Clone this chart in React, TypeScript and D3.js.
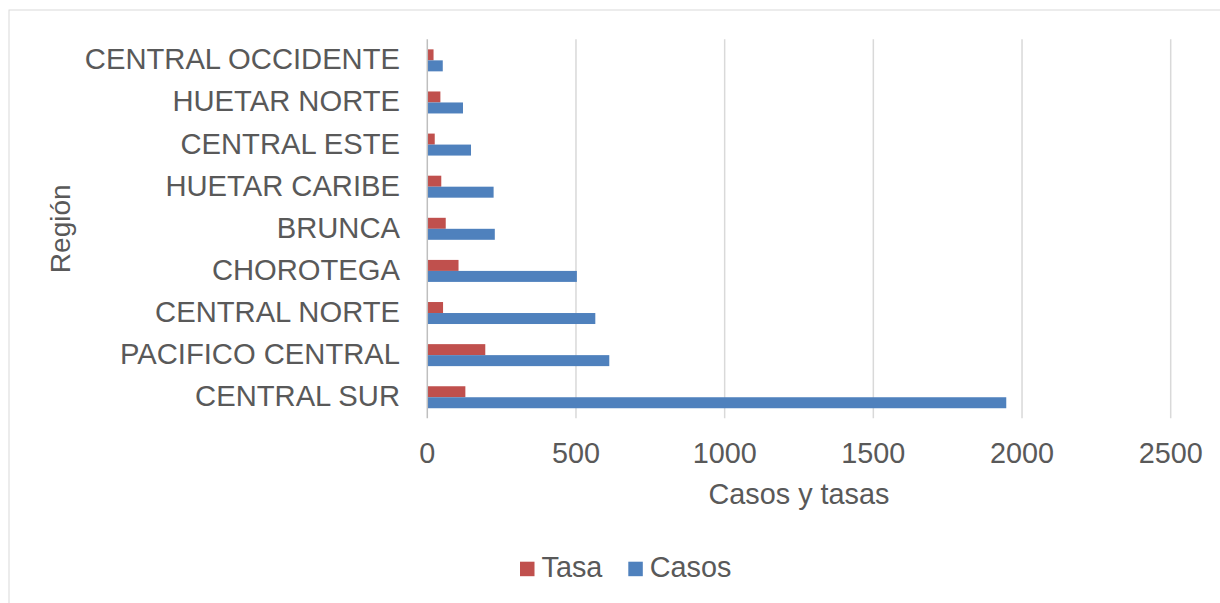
import React from "react";
import * as d3 from "d3";

const categories = [
  "CENTRAL OCCIDENTE",
  "HUETAR NORTE",
  "CENTRAL ESTE",
  "HUETAR CARIBE",
  "BRUNCA",
  "CHOROTEGA",
  "CENTRAL NORTE",
  "PACIFICO CENTRAL",
  "CENTRAL SUR",
];
const tasa = [21, 44, 25, 47, 62, 105, 53, 195, 128];
const casos = [52, 120, 147, 223, 227, 503, 565, 612, 1947];
const seriesNames = ["Tasa", "Casos"];
const seriesColors = ["#C0504D", "#4F81BD"];
const xTicks = [0, 500, 1000, 1500, 2000, 2500];

const W = 1220;
const H = 603;
const FONT = "'Liberation Sans', Arial, sans-serif";
const TEXT = "#595959";

export default function App() {
  const x = d3.scaleLinear().domain([0, 2500]).range([427.3, 1170.7]);
  const y = d3.scaleBand().domain(categories).range([39.3, 418.3]).paddingInner(0).paddingOuter(0);
  const inner = d3
    .scaleBand()
    .domain(seriesNames)
    .range([0, y.bandwidth()])
    .paddingInner(0)
    .paddingOuter(0.915);
  const values = [tasa, casos];

  return (
    <svg
      width={W}
      height={H}
      style={{ position: "absolute", left: 0, top: 0, background: "#fff" }}
      fontFamily={FONT}
    >
      <rect x={0} y={0} width={W} height={H} fill="#fff" />
      <rect x={9} y={10} width={W + 20} height={H + 20} fill="none" stroke="#D9D9D9" strokeWidth={1} />
      {xTicks.slice(1).map((t) => (
        <line key={t} x1={x(t)} x2={x(t)} y1={39.3} y2={418.3} stroke="#D9D9D9" strokeWidth={1.5} />
      ))}
      {categories.map((c, i) =>
        seriesNames.map((s, j) => (
          <rect
            key={c + s}
            x={x(0)}
            y={(y(c) as number) + (inner(s) as number)}
            width={x(values[j][i]) - x(0)}
            height={inner.bandwidth()}
            fill={seriesColors[j]}
          />
        ))
      )}
      <line x1={x(0)} x2={x(0)} y1={39.3} y2={418.3} stroke="#BFBFBF" strokeWidth={1.5} />
      {categories.map((c) => (
        <text
          key={c}
          x={400}
          y={(y(c) as number) + y.bandwidth() / 2 + 9}
          textAnchor="end"
          fontSize={29.2}
          fill={TEXT}
        >
          {c}
        </text>
      ))}
      {xTicks.map((t) => (
        <text key={t} x={x(t)} y={463} textAnchor="middle" fontSize={28.8} fill={TEXT}>
          {t}
        </text>
      ))}
      <text x={799} y={504} textAnchor="middle" fontSize={28.8} fill={TEXT}>
        Casos y tasas
      </text>
      <text
        transform={`translate(70, ${(39.3 + 418.3) / 2}) rotate(-90)`}
        textAnchor="middle"
        fontSize={28}
        fill={TEXT}
      >
        Región
      </text>
      {seriesNames.map((s, j) => {
        const lx = j === 0 ? 520 : 628.3;
        return (
          <g key={s}>
            <rect x={lx} y={561.7} width={14.5} height={14.5} fill={seriesColors[j]} />
            <text x={lx + 21.5} y={577} fontSize={28.8} fill={TEXT}>
              {s}
            </text>
          </g>
        );
      })}
    </svg>
  );
}
